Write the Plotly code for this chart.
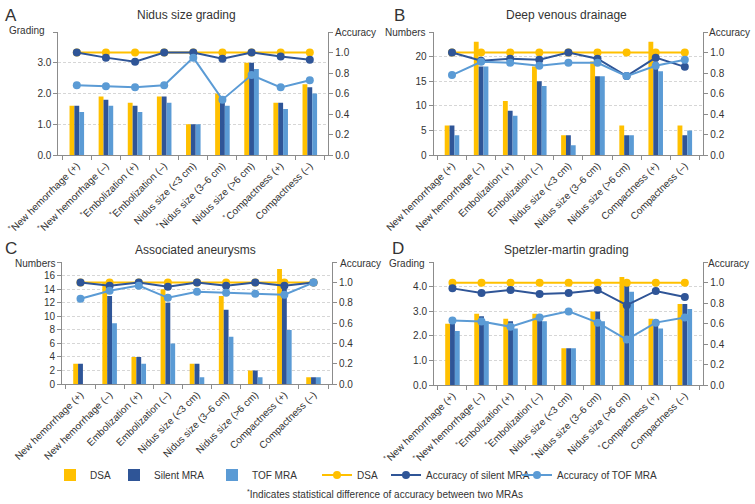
import plotly.graph_objects as go
from plotly.subplots import make_subplots

# ---------------- data ----------------
cats_star_A = ["<sup>*</sup>New hemorrhage (+)", "<sup>*</sup>New hemorrhage (–)", "<sup>*</sup>Embolization (+)",
               "<sup>*</sup>Embolization (–)", "Nidus size (&lt;3 cm)", "<sup>*</sup>Nidus size (3–6 cm)",
               "Nidus size (&gt;6 cm)", "<sup>*</sup>Compactness (+)", "Compactness (–)"]
cats_plain = ["New hemorrhage (+)", "New hemorrhage (–)", "Embolization (+)", "Embolization (–)",
              "Nidus size (&lt;3 cm)", "Nidus size (3–6 cm)", "Nidus size (&gt;6 cm)",
              "Compactness (+)", "Compactness (–)"]
cats_star_D = cats_star_A

titles = ["Nidus size grading", "Deep venous drainage", "Associated aneurysms", "Spetzler-martin grading"]
letters = ["A", "B", "C", "D"]
left_titles = ["Grading", "Numbers", "Numbers", "Grading"]

# Panel A - Nidus size grading
A_dsa = [1.6, 1.9, 1.7, 1.9, 1.0, 2.0, 3.0, 1.7, 2.3]
A_silent = [1.6, 1.8, 1.6, 1.9, 1.0, 1.9, 3.0, 1.7, 2.2]
A_tof = [1.4, 1.6, 1.4, 1.7, 1.0, 1.6, 2.8, 1.5, 2.0]
A_acc_dsa = [1.0] * 9
A_acc_silent = [1.0, 0.95, 0.91, 1.0, 1.0, 0.94, 1.0, 0.96, 0.93]
A_acc_tof = [0.68, 0.67, 0.66, 0.68, 0.95, 0.54, 0.78, 0.66, 0.73]

# Panel B - Deep venous drainage
B_dsa = [6, 23, 11, 18, 4, 19, 6, 23, 6]
B_silent = [6, 18, 9, 15, 4, 16, 4, 19, 4]
B_tof = [4, 18, 8, 14, 2, 16, 4, 17, 5]
B_acc_dsa = [1.0] * 9
B_acc_silent = [1.0, 0.92, 0.94, 0.93, 1.0, 0.94, 0.77, 0.95, 0.86]
B_acc_tof = [0.78, 0.91, 0.90, 0.87, 0.90, 0.90, 0.77, 0.87, 0.93]

# Panel C - Associated aneurysms
C_dsa = [3, 15, 4, 14, 3, 13, 2, 17, 1]
C_silent = [3, 13, 4, 12, 3, 11, 2, 15, 1]
C_tof = [0, 9, 3, 6, 1, 7, 1, 8, 1]
C_acc_dsa = [1.0] * 9
C_acc_silent = [1.0, 0.97, 1.0, 0.96, 1.0, 0.97, 1.0, 0.97, 1.0]
C_acc_tof = [0.84, 0.92, 0.97, 0.85, 0.91, 0.90, 0.89, 0.88, 1.0]

# Panel D - Spetzler-martin grading
D_dsa = [2.5, 2.9, 2.7, 2.9, 1.5, 3.0, 4.4, 2.7, 3.3]
D_silent = [2.5, 2.8, 2.6, 2.8, 1.5, 3.0, 4.1, 2.5, 3.3]
D_tof = [2.2, 2.6, 2.3, 2.6, 1.5, 2.6, 3.8, 2.3, 3.1]
D_acc_dsa = [1.0] * 9
D_acc_silent = [0.945, 0.90, 0.93, 0.89, 0.90, 0.93, 0.78, 0.92, 0.86]
D_acc_tof = [0.63, 0.62, 0.57, 0.66, 0.72, 0.61, 0.445, 0.61, 0.66]

left_ticks = [[0, 1, 2, 3, 4], [0, 5, 10, 15, 20, 25], [0, 2, 4, 6, 8, 10, 12, 14, 16, 18], [0, 1, 2, 3, 4, 5]]
left_fmt = ["{:.1f}", "{:d}", "{:d}", "{:.1f}"]
right_ticks = [0, 0.2, 0.4, 0.6, 0.8, 1.0, 1.2]

series_names = ["DSA", "Silent MRA", "TOF MRA", "DSA", "Accuracy of silent MRA", "Accuracy of TOF MRA"]

# ---------------- style ----------------
C_YEL = "#FFC000"
C_DARK = "#2F5597"
C_LIGHT = "#5B9BD5"
TXT = "#333333"
AX = "#8c8c8c"
FONT = "Liberation Sans, Arial, sans-serif"
W, H = 755, 504

panels = [
    dict(cats=cats_star_A, bars=(A_dsa, A_silent, A_tof), acc=(A_acc_dsa, A_acc_silent, A_acc_tof)),
    dict(cats=cats_plain, bars=(B_dsa, B_silent, B_tof), acc=(B_acc_dsa, B_acc_silent, B_acc_tof)),
    dict(cats=cats_plain, bars=(C_dsa, C_silent, C_tof), acc=(C_acc_dsa, C_acc_silent, C_acc_tof)),
    dict(cats=cats_star_D, bars=(D_dsa, D_silent, D_tof), acc=(D_acc_dsa, D_acc_silent, D_acc_tof)),
]

# pixel boxes of plot areas: (left, right, top, bottom)
boxes = [(58.3, 328.3, 32, 155), (433.5, 703.3, 32, 155), (62, 332, 262.3, 384), (434, 703.3, 262.3, 385)]

fig = make_subplots(rows=2, cols=2,
                    specs=[[{"secondary_y": True}, {"secondary_y": True}],
                           [{"secondary_y": True}, {"secondary_y": True}]])

bar_cols = [C_YEL, C_DARK, C_LIGHT]
legend_ids = ["legend", "legend2", "legend3", "legend4", "legend5", "legend6"]

for i, p in enumerate(panels):
    r, c = i // 2 + 1, i % 2 + 1
    for k in range(3):
        fig.add_trace(go.Bar(x=p["cats"], y=p["bars"][k], name=series_names[k],
                             marker=dict(color=bar_cols[k], line=dict(width=0)),
                             showlegend=(i == 0), legend=legend_ids[k]),
                      row=r, col=c, secondary_y=False)
    for k in range(3):
        fig.add_trace(go.Scatter(x=p["cats"], y=p["acc"][k], name=series_names[3 + k],
                                 mode="lines+markers",
                                 line=dict(color=bar_cols[k], width=2),
                                 marker=dict(color=bar_cols[k], size=8),
                                 showlegend=(i == 0), legend=legend_ids[3 + k]),
                      row=r, col=c, secondary_y=True)

    L, R, T, B = boxes[i]
    xd = [L / W, R / W]
    yd = [1 - B / H, 1 - T / H]
    lt = left_ticks[i]
    fig.update_xaxes(row=r, col=c, domain=xd, type="category", tickangle=-45,
                     tickson="boundaries", ticks="outside", ticklen=4, tickcolor=AX,
                     showline=True, linecolor=AX, linewidth=1, showgrid=False,
                     tickfont=dict(size=10, color=TXT, family=FONT), automargin=False)
    fig.update_yaxes(row=r, col=c, secondary_y=False, domain=yd, range=[0, lt[-1]],
                     tickvals=lt, ticktext=[left_fmt[i].format(v) for v in lt[:-1]] + [" "],
                     ticks="outside", ticklen=4, tickcolor=AX, showline=True, linecolor=AX,
                     linewidth=1, showgrid=True, gridcolor="#d6d6d6", griddash="3px,2px",
                     gridwidth=1, zeroline=False,
                     tickfont=dict(size=10, color=TXT, family=FONT), automargin=False)
    fig.update_yaxes(row=r, col=c, secondary_y=True, domain=yd, range=[0, 1.2],
                     tickvals=right_ticks, ticktext=["0.0", "0.2", "0.4", "0.6", "0.8", "1.0", " "],
                     ticks="outside", ticklen=4, tickcolor=AX, showline=True, linecolor=AX,
                     linewidth=1, showgrid=False, zeroline=False,
                     tickfont=dict(size=10, color=TXT, family=FONT), automargin=False)

annotations = []
title_pos = [(186, 15), (566.7, 15), (195, 250), (566.7, 250)]
letter_pos = [(3, 15), (392, 15), (3, 248), (390, 248)]
ltitle_pos = [(47, 30), (428, 32), (58, 263), (427, 263)]
rtitle_pos = [(333, 32), (707, 32), (338, 263), (706, 263)]
for i in range(4):
    annotations.append(dict(text=titles[i], x=title_pos[i][0] / W, y=1 - title_pos[i][1] / H,
                            xref="paper", yref="paper", showarrow=False, xanchor="center", yanchor="middle",
                            font=dict(size=12, color=TXT, family=FONT)))
    annotations.append(dict(text=letters[i], x=letter_pos[i][0] / W, y=1 - letter_pos[i][1] / H,
                            xref="paper", yref="paper", showarrow=False, xanchor="left", yanchor="middle",
                            font=dict(size=17, color=TXT, family=FONT)))
    annotations.append(dict(text=left_titles[i], x=ltitle_pos[i][0] / W, y=1 - ltitle_pos[i][1] / H,
                            xref="paper", yref="paper", showarrow=False, xanchor="right", yanchor="middle",
                            font=dict(size=10, color=TXT, family=FONT)))
    annotations.append(dict(text="Accuracy", x=rtitle_pos[i][0] / W, y=1 - rtitle_pos[i][1] / H,
                            xref="paper", yref="paper", showarrow=False, xanchor="left", yanchor="middle",
                            font=dict(size=10, color=TXT, family=FONT)))

annotations.append(dict(text="<sup>*</sup>Indicates statistical difference of accuracy between two MRAs",
                        x=385 / W, y=1 - 494 / H, xref="paper", yref="paper", showarrow=False,
                        xanchor="center", yanchor="middle", font=dict(size=10, color=TXT, family=FONT)))

text_starts = [90, 154, 252, 357, 426, 557]
legend_layout = {}
for k, lid in enumerate(legend_ids):
    legend_layout[lid] = dict(x=(text_starts[k] - 40) / W, y=1 - 475 / H, xanchor="left", yanchor="middle",
                              orientation="h", bgcolor="rgba(0,0,0,0)", borderwidth=0,
                              font=dict(size=10, color=TXT, family=FONT), itemwidth=30,
                              tracegroupgap=0)

fig.update_layout(width=W, height=H, margin=dict(l=0, r=0, t=0, b=0),
                  plot_bgcolor="white", paper_bgcolor="white",
                  barmode="group", bargap=0.5, bargroupgap=0,
                  font=dict(family=FONT, color=TXT, size=10),
                  annotations=annotations, showlegend=True, **legend_layout)

fig.write_html("out.html", config={"displayModeBar": False},
               post_script="document.body.style.margin='0px';document.body.style.overflow='hidden';")
